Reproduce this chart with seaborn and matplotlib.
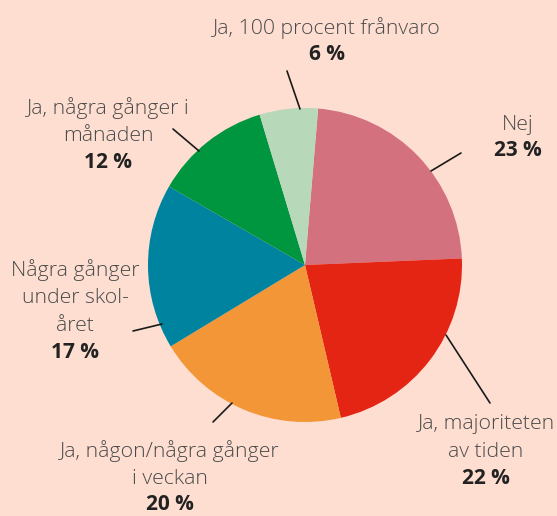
import matplotlib
matplotlib.use("Agg")
import matplotlib.pyplot as plt
import seaborn as sns

# ---- data ----
categories = ["Nej", "Ja, majoriteten\nav tiden", "Ja, någon/några gånger\ni veckan",
              "Några gånger\nunder skol-\nåret", "Ja, några gånger i\nmånaden",
              "Ja, 100 procent frånvaro"]
values = [23, 22, 20, 17, 12, 6]
value_labels = ["23 %", "22 %", "20 %", "17 %", "12 %", "6 %"]

# ---- style ----
colors = ["#D4717F", "#E42514", "#F39637", "#00839F", "#00953F", "#B8D8BA"]
bg = "#FDDED1"
W, H = 557, 516

sns.set_theme(style="white")
plt.rcParams["font.family"] = ["Open Sans", "DejaVu Sans"]

fig = plt.figure(figsize=(W / 100, H / 100), dpi=100, facecolor=bg)
ax = fig.add_axes([0, 0, 1, 1])
ax.set_facecolor(bg)

ax.pie(values, colors=colors, startangle=-85.2, counterclock=True,
       center=(305, 265), radius=157, frame=True,
       wedgeprops=dict(linewidth=0))
ax.set_xlim(0, W)
ax.set_ylim(H, 0)
ax.axis("off")

# label layout (pixel positions)
label_x = [518, 486, 170, 75, 108, 327]
label_top = [125, 424, 451, 270, 108, 28]
line_h = 28
pct_gap = 26
leaders = [((431, 171), (461, 153)),
           ((446, 335), (490, 403)),
           ((232, 403), (213, 422)),
           ((162, 324), (133, 331)),
           ((199, 151), (173, 129)),
           ((300, 109), (287, 71))]

for cat, pl, x, y0, (p1, p2) in zip(categories, value_labels, label_x, label_top, leaders):
    lines = cat.split("\n")
    for i, ln in enumerate(lines):
        ax.text(x, y0 + i * line_h, ln, ha="center", va="center", fontsize=15.3,
                color="#4a4a4a", fontweight="light")
    ax.text(x, y0 + (len(lines) - 1) * line_h + pct_gap, pl, ha="center", va="center",
            fontsize=15, color="#222222", fontweight="bold")
    ax.plot([p1[0], p2[0]], [p1[1], p2[1]], color="#1a1a1a", lw=1.2)

fig.savefig("out.png", dpi=100, facecolor=bg)
